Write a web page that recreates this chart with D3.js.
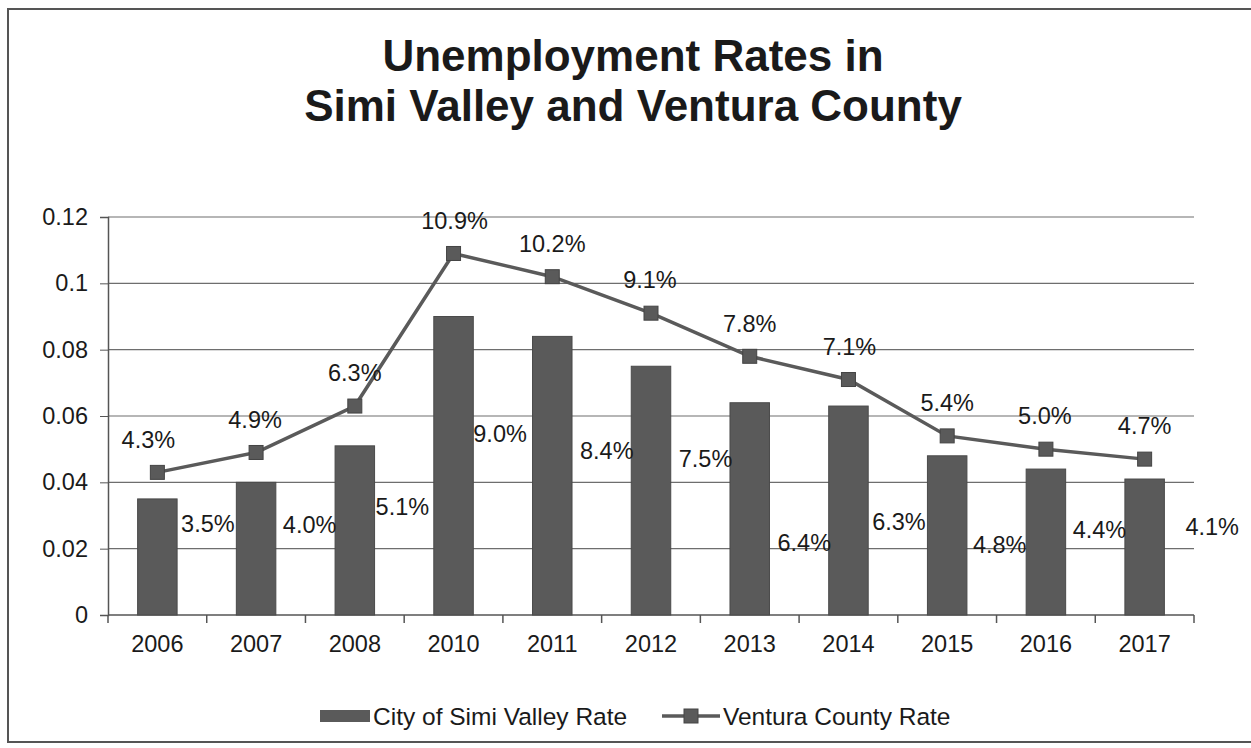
<!DOCTYPE html>
<html>
<head>
<meta charset="utf-8">
<script src="https://cdn.jsdelivr.net/npm/d3@7"></script>
<style>
  html, body { margin: 0; padding: 0; background: #fff; }
  svg { display: block; font-family: "Liberation Sans", Arial, sans-serif; }
</style>
</head>
<body>
<svg id="chart" width="1251" height="748"></svg>
<script>
// Years shown on the category axis (2009 is not reported)
const years = ["2006", "2007", "2008", "2010", "2011", "2012", "2013", "2014", "2015", "2016", "2017"];
// City of Simi Valley unemployment rate
const simiRate = [0.035, 0.040, 0.051, 0.090, 0.084, 0.075, 0.064, 0.063, 0.048, 0.044, 0.041];
// Ventura County unemployment rate
const venturaRate = [0.043, 0.049, 0.063, 0.109, 0.102, 0.091, 0.078, 0.071, 0.054, 0.050, 0.047];
// Value axis ticks
const yTicks = [0, 0.02, 0.04, 0.06, 0.08, 0.10, 0.12];
const titleLines = ["Unemployment Rates in", "Simi Valley and Ventura County"];
const legendLabels = ["City of Simi Valley Rate", "Ventura County Rate"];

const svg = d3.select("#chart");
const W = 1251, H = 748;
const margin = { left: 108, right: 57, top: 217, bottom: 133 };
const plotW = W - margin.left - margin.right;
const plotH = H - margin.top - margin.bottom;
const dark = "#5a5a5a";
const ink = "#1a1a1a";
const fs = 23.5;

// Outer frame
svg.append("rect")
  .attr("x", 8).attr("y", 9).attr("width", 1260).attr("height", 733)
  .attr("fill", "#fff").attr("stroke", "#555").attr("stroke-width", 2);

// Title
svg.append("g").selectAll("text").data(titleLines).join("text")
  .attr("x", 633).attr("y", (d, i) => 71 + i * 50)
  .attr("text-anchor", "middle")
  .attr("font-size", 44).attr("font-weight", "bold").attr("fill", ink)
  .text(d => d);

const g = svg.append("g").attr("transform", `translate(${margin.left},${margin.top})`);

const x = d3.scaleBand().domain(years).range([0, plotW]).paddingInner(0.6).paddingOuter(0.3);
const xTick = d3.scaleBand().domain(years).range([0, plotW]);
const y = d3.scaleLinear().domain([0, 0.12]).range([plotH, 0]);

// Horizontal gridlines
g.append("g").selectAll("line").data(yTicks.slice(1)).join("line")
  .attr("x1", 0).attr("x2", plotW)
  .attr("y1", d => y(d)).attr("y2", d => y(d))
  .attr("stroke", "#6e6e6e").attr("stroke-width", 1.2);

// Value axis
const yAxis = g.append("g")
  .call(d3.axisLeft(y).tickValues(yTicks).tickSize(8).tickPadding(12)
    .tickFormat(d => d === 0 ? "0" : String(+d.toFixed(2))));
yAxis.select(".domain").attr("stroke", "#555").attr("stroke-width", 1.5);
yAxis.selectAll(".tick line").attr("stroke", "#555");
yAxis.selectAll("text").attr("font-size", fs).attr("fill", ink)
  .attr("font-family", "'Liberation Sans', Arial, sans-serif");

// Category axis with ticks between categories
const xAxisG = g.append("g").attr("transform", `translate(0,${plotH})`);
xAxisG.append("line").attr("x1", 0).attr("x2", plotW).attr("y1", 0).attr("y2", 0)
  .attr("stroke", "#555").attr("stroke-width", 1.5);
const boundaries = years.map(d => xTick(d)).concat([plotW]);
xAxisG.selectAll("line.tk").data(boundaries).join("line").attr("class", "tk")
  .attr("x1", d => d).attr("x2", d => d).attr("y1", 0).attr("y2", 8)
  .attr("stroke", "#555").attr("stroke-width", 1.5);
xAxisG.selectAll("text").data(years).join("text")
  .attr("x", d => xTick(d) + xTick.bandwidth() / 2).attr("y", 37)
  .attr("text-anchor", "middle").attr("font-size", fs).attr("fill", ink)
  .text(d => d);

// Bars for Simi Valley
g.append("g").selectAll("rect").data(simiRate).join("rect")
  .attr("x", (d, i) => x(years[i]))
  .attr("y", d => y(d))
  .attr("width", x.bandwidth())
  .attr("height", d => plotH - y(d))
  .attr("fill", dark).attr("stroke", "#4a4a4a").attr("stroke-width", 1);

// Bar value labels, placed beside each bar
const barLabelDx = [4, 7, 1, 0, 8, 8, 8, 4, 6, 7, 21];
const barLabelDy = [25, 42, 61, 117, 114, 93, 140, 116, 89, 61, 48];
g.append("g").selectAll("text").data(simiRate).join("text")
  .attr("x", (d, i) => x(years[i]) + x.bandwidth() + barLabelDx[i])
  .attr("y", (d, i) => y(d) + barLabelDy[i])
  .attr("dy", "0.35em")
  .attr("font-size", fs).attr("fill", ink)
  .text(d => (d * 100).toFixed(1) + "%");

// Ventura County line
const cx = i => x(years[i]) + x.bandwidth() / 2;
const line = d3.line().x((d, i) => cx(i)).y(d => y(d));
g.append("path").datum(venturaRate)
  .attr("d", line).attr("fill", "none")
  .attr("stroke", dark).attr("stroke-width", 3.5);

const mk = 14;
g.append("g").selectAll("rect").data(venturaRate).join("rect")
  .attr("x", (d, i) => cx(i) - mk / 2).attr("y", d => y(d) - mk / 2)
  .attr("width", mk).attr("height", mk)
  .attr("fill", dark).attr("stroke", "#444").attr("stroke-width", 1);

const lineLabelDx = [-9, -1, 0, 1, 0, -1, 0, 1, 0, -1, 0];
g.append("g").selectAll("text").data(venturaRate).join("text")
  .attr("x", (d, i) => cx(i) + lineLabelDx[i])
  .attr("y", d => y(d) - 33)
  .attr("dy", "0.35em")
  .attr("text-anchor", "middle")
  .attr("font-size", fs).attr("fill", ink)
  .text(d => (d * 100).toFixed(1) + "%");

// Legend
const lg = svg.append("g").attr("transform", "translate(0,716)");
lg.append("rect").attr("x", 320).attr("y", -6).attr("width", 50).attr("height", 12).attr("fill", dark);
lg.append("text").attr("x", 373).attr("y", 0).attr("dy", "0.35em")
  .attr("font-size", 24.5).attr("fill", ink).text(legendLabels[0]);
lg.append("line").attr("x1", 662).attr("x2", 720).attr("y1", 0).attr("y2", 0)
  .attr("stroke", dark).attr("stroke-width", 3.5);
lg.append("rect").attr("x", 691 - mk / 2).attr("y", -mk / 2).attr("width", mk).attr("height", mk)
  .attr("fill", dark).attr("stroke", "#444");
lg.append("text").attr("x", 723).attr("y", 0).attr("dy", "0.35em")
  .attr("font-size", 24.5).attr("fill", ink).text(legendLabels[1]);
</script>
</body>
</html>
